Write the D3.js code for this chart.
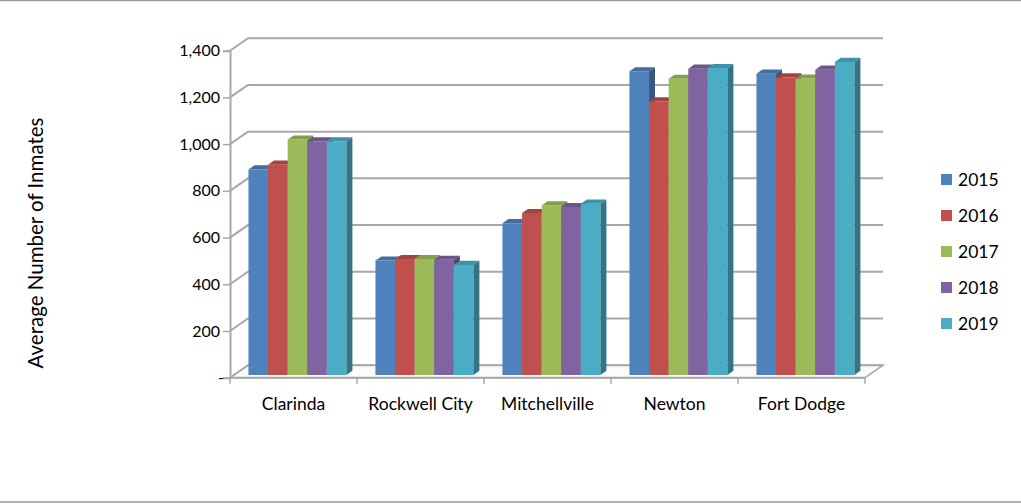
<!DOCTYPE html>
<html>
<head>
<meta charset="utf-8">
<script src="https://cdn.jsdelivr.net/npm/d3@7"></script>
<style>
  html, body { margin: 0; padding: 0; background: #fff; }
  svg { display: block; font-family: Lato, "Open Sans", sans-serif; }
</style>
</head>
<body>
<svg id="chart" width="1021" height="504"></svg>
<script>
// Average inmate population by facility, 2015-2019
const categories = ["Clarinda", "Rockwell City", "Mitchellville", "Newton", "Fort Dodge"];
const years = ["2015", "2016", "2017", "2018", "2019"];
const colors = ["#4F81BD", "#C0504D", "#9BBB59", "#8064A2", "#4BACC6"];
const v2015 = [880, 490, 650, 1300, 1290];
const v2016 = [900, 496, 693, 1171, 1274];
const v2017 = [1008, 496, 726, 1268, 1269];
const v2018 = [1000, 493, 719, 1311, 1307];
const v2019 = [1000, 471, 733, 1314, 1340];
const yTicks = [0, 200, 400, 600, 800, 1000, 1200, 1400];
const yTitle = "Average Number of Inmates";

const series = [v2015, v2016, v2017, v2018, v2019];

const svg = d3.select("#chart");

// oblique depth vector (full depth of the plot box)
const DX = 18, DY = -12.5;
const Z0 = 0.22, Z1 = 0.55;   // bar front / back depth

const x = d3.scaleBand().domain(categories).range([230, 865]);
const y = d3.scaleLinear().domain([0, 1400]).range([377.7, 50.7]);
const groupW = 98;
const xi = d3.scaleBand().domain(years).range([0, groupW]);

const P = (px, py, z) => [px + DX * z, py + DY * z];
const poly = pts => "M" + pts.map(p => p.join(",")).join("L") + "Z";

// chart frame lines
svg.append("line").attr("x1", 0).attr("x2", 1021).attr("y1", 0.5).attr("y2", 0.5)
  .attr("stroke", "#9a9a9a").attr("stroke-width", 1.5);
svg.append("line").attr("x1", 0).attr("x2", 1021).attr("y1", 502).attr("y2", 502)
  .attr("stroke", "#9a9a9a").attr("stroke-width", 1.5);

const gridColor = "#a8a8a8";
const x0 = x.range()[0], x1 = x.range()[1];

// floor
const floorY = y(0);
svg.append("path")
  .attr("d", poly([P(x0, floorY, 0), P(x1, floorY, 0), P(x1, floorY, 1), P(x0, floorY, 1)]))
  .attr("fill", "#fbfbfb").attr("stroke", gridColor).attr("stroke-width", 1.5);

// back wall gridlines and left wall diagonals
const grid = svg.append("g");
yTicks.forEach(t => {
  const yy = y(t);
  const a = P(x0, yy, 0), b = P(x0, yy, 1), c = P(x1, yy, 1);
  grid.append("path").attr("d", `M${a}L${b}L${c}`)
    .attr("fill", "none").attr("stroke", gridColor).attr("stroke-width", 2);
});

// front floor edge
svg.append("line").attr("x1", x0).attr("x2", x1).attr("y1", floorY).attr("y2", floorY)
  .attr("stroke", gridColor).attr("stroke-width", 2);

// x axis boundary ticks
const bounds = categories.map(c => x(c)).concat([x1]);
svg.append("g").selectAll("line").data(bounds).join("line")
  .attr("x1", d => d).attr("x2", d => d)
  .attr("y1", floorY).attr("y2", floorY + 6)
  .attr("stroke", gridColor).attr("stroke-width", 1.5);

// y axis
const yAxis = d3.axisLeft(y).tickValues(yTicks).tickSize(7).tickPadding(3)
  .tickFormat(d => d === 0 ? "-" : d3.format(",")(d));
const gy = svg.append("g").attr("transform", `translate(${x0},0)`).call(yAxis);
gy.select(".domain").attr("stroke", gridColor).attr("stroke-width", 2);
gy.selectAll(".tick line").attr("stroke", gridColor).attr("stroke-width", 1.5);
gy.selectAll(".tick text").attr("fill", "#000").style("font-size", "16px")
  .style("font-family", "Lato, sans-serif");
// the zero dash sits a little further right, accounting style
gy.selectAll(".tick").filter(d => d === 0).select("text").attr("dx", "4");

// bars
const bars = svg.append("g");
categories.forEach((cat, ci) => {
  const gx = x(cat) + (x.bandwidth() - groupW) / 2;
  years.forEach((yr, si) => {
    const v = series[si][ci];
    const l = gx + xi(yr), r = l + xi.bandwidth();
    const yb = y(0), yt = y(v);
    const c = d3.color(colors[si]);
    const g = bars.append("g");
    // front face
    g.append("path").attr("d", poly([P(l, yb, Z0), P(r, yb, Z0), P(r, yt, Z0), P(l, yt, Z0)]))
      .attr("fill", c.formatHex());
    // top face
    g.append("path").attr("d", poly([P(l, yt, Z0), P(r, yt, Z0), P(r, yt, Z1), P(l, yt, Z1)]))
      .attr("fill", c.darker(0.45).formatHex());
    // right side face
    g.append("path").attr("d", poly([P(r, yb, Z0), P(r, yb, Z1), P(r, yt, Z1), P(r, yt, Z0)]))
      .attr("fill", c.darker(1.1).formatHex());
  });
});

// category labels
svg.append("g").selectAll("text").data(categories).join("text")
  .attr("x", d => x(d) + x.bandwidth() / 2)
  .attr("y", 410)
  .attr("text-anchor", "middle")
  .style("font-size", "17.5px")
  .attr("fill", "#000")
  .text(d => d);

// y axis title
svg.append("text")
  .attr("transform", "translate(43,243) rotate(-90)")
  .attr("text-anchor", "middle")
  .style("font-size", "20.5px")
  .attr("fill", "#000")
  .text(yTitle);

// legend
const legend = svg.append("g");
years.forEach((yr, i) => {
  const cy = 179.5 + i * 36;
  legend.append("rect").attr("x", 941).attr("y", cy - 5.5).attr("width", 11).attr("height", 11)
    .attr("fill", colors[i]);
  legend.append("text").attr("x", 958).attr("y", cy).attr("dy", "0.36em")
    .style("font-size", "17.5px").attr("fill", "#000").text(yr);
});
</script>
</body>
</html>
